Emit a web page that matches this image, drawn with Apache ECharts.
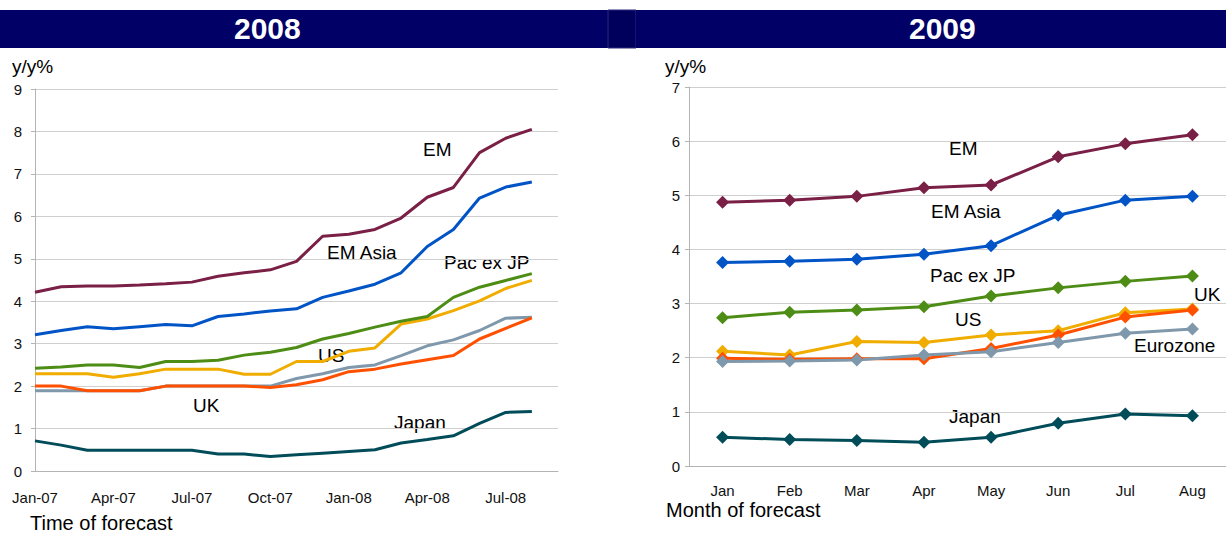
<!DOCTYPE html>
<html>
<head>
<meta charset="utf-8">
<script src="https://cdn.jsdelivr.net/npm/echarts@6/dist/echarts.min.js"></script>
<style>
  html, body { margin: 0; padding: 0; background: #fff; }
  #main { width: 1226px; height: 538px; }
</style>
</head>
<body>
<div id="main"></div>
<script>
// 2008 panel: monthly forecasts Jan-07 .. Aug-08 (axis runs to Sep-08)
var months08 = ['Jan-07','Feb-07','Mar-07','Apr-07','May-07','Jun-07','Jul-07','Aug-07','Sep-07','Oct-07','Nov-07','Dec-07',
  'Jan-08','Feb-08','Mar-08','Apr-08','May-08','Jun-08','Jul-08','Aug-08','Sep-08'];
var em08 = [4.21,4.34,4.36,4.36,4.38,4.41,4.45,4.59,4.67,4.74,4.94,5.53,5.58,5.69,5.96,6.45,6.68,7.50,7.84,8.05];
var emAsia08 = [3.21,3.31,3.40,3.35,3.40,3.45,3.42,3.64,3.70,3.77,3.82,4.09,4.24,4.40,4.67,5.29,5.69,6.43,6.69,6.81];
var pacExJp08 = [2.42,2.45,2.50,2.50,2.44,2.58,2.58,2.61,2.73,2.80,2.91,3.11,3.24,3.39,3.53,3.64,4.09,4.33,4.49,4.65];
var us08 = [2.29,2.29,2.29,2.21,2.29,2.40,2.40,2.40,2.28,2.28,2.58,2.58,2.82,2.90,3.46,3.58,3.78,4.01,4.30,4.49];
var uk08 = [2.00,2.00,1.89,1.89,1.89,2.00,2.00,2.00,2.00,1.97,2.03,2.15,2.34,2.40,2.52,2.62,2.72,3.11,3.36,3.61];
var euro08 = [1.89,1.89,1.89,1.89,1.89,2.00,2.00,2.00,2.00,2.00,2.18,2.29,2.44,2.50,2.72,2.95,3.09,3.31,3.60,3.62];
var japan08 = [0.71,0.61,0.49,0.49,0.49,0.49,0.49,0.40,0.40,0.34,0.38,0.42,0.46,0.50,0.66,0.74,0.83,1.12,1.38,1.40];

// 2009 panel: month of forecast
var months09 = ['Jan','Feb','Mar','Apr','May','Jun','Jul','Aug'];
var em09 = [4.87,4.91,4.98,5.14,5.19,5.71,5.95,6.12];
var emAsia09 = [3.76,3.78,3.82,3.91,4.07,4.63,4.91,4.98];
var pacExJp09 = [2.74,2.84,2.88,2.94,3.14,3.29,3.41,3.51];
var us09 = [2.12,2.05,2.30,2.28,2.42,2.50,2.83,2.90];
var uk09 = [1.99,1.97,1.98,1.98,2.17,2.42,2.75,2.88];
var euro09 = [1.93,1.94,1.96,2.05,2.11,2.28,2.45,2.53];
var japan09 = [0.53,0.49,0.47,0.44,0.53,0.79,0.96,0.93];

var colors = {
  em: '#7a1f45', emAsia: '#0054c6', pac: '#4e8d15', us: '#f0ad00',
  uk: '#ff5000', euro: '#7f98ab', japan: '#004c59'
};

var font = 'Liberation Sans, Arial, sans-serif';
var chart = echarts.init(document.getElementById('main'), null, { renderer: 'svg' });

function line08(name, data, color) {
  return {
    name: name, type: 'line', xAxisIndex: 0, yAxisIndex: 0, data: data,
    showSymbol: false, symbol: 'none',
    lineStyle: { color: color, width: 3 }, itemStyle: { color: color }
  };
}
function line09(name, data, color) {
  return {
    name: name, type: 'line', xAxisIndex: 1, yAxisIndex: 1, data: data,
    symbol: 'diamond', symbolSize: 13,
    lineStyle: { color: color, width: 3 }, itemStyle: { color: color }
  };
}

function label(text, x, y, size) {
  return { type: 'text', left: x, top: y, style: { text: text, font: (size || 19) + 'px ' + font, fill: '#000' } };
}

var axisText = { color: '#111', fontSize: 15, fontFamily: font };

var option = {
  animation: false,
  grid: [
    { left: 35, right: 668, top: 89, bottom: 67 },
    { left: 689, right: -4, top: 87, bottom: 72 }
  ],
  xAxis: [
    {
      gridIndex: 0, type: 'category', data: months08, boundaryGap: false,
      axisLine: { lineStyle: { color: '#b4b4b4' } },
      axisTick: { show: false },
      axisLabel: Object.assign({ interval: 2, margin: 19 }, axisText),
      splitLine: { show: false }
    },
    {
      gridIndex: 1, type: 'category', data: months09, boundaryGap: true,
      axisLine: { lineStyle: { color: '#b4b4b4' } },
      axisTick: { show: false },
      axisLabel: Object.assign({ margin: 17 }, axisText),
      splitLine: { show: false }
    }
  ],
  yAxis: [
    {
      gridIndex: 0, type: 'value', min: 0, max: 9, interval: 1,
      axisLine: { show: true, lineStyle: { color: '#b4b4b4' } },
      axisTick: { show: true, length: 4, lineStyle: { color: '#b4b4b4' } },
      axisLabel: Object.assign({ margin: 13 }, axisText),
      splitLine: { lineStyle: { color: '#cfcfcf', width: 1 } }
    },
    {
      gridIndex: 1, type: 'value', min: 0, max: 7, interval: 1,
      axisLine: { show: true, lineStyle: { color: '#b4b4b4' } },
      axisTick: { show: true, length: 4, lineStyle: { color: '#b4b4b4' } },
      axisLabel: Object.assign({ margin: 9 }, axisText),
      splitLine: { lineStyle: { color: '#cfcfcf', width: 1 } }
    }
  ],
  series: [
    line08('Japan', japan08, colors.japan),
    line08('Eurozone', euro08, colors.euro),
    line08('UK', uk08, colors.uk),
    line08('US', us08, colors.us),
    line08('Pac ex JP', pacExJp08, colors.pac),
    line08('EM Asia', emAsia08, colors.emAsia),
    line08('EM', em08, colors.em),

    line09('Japan', japan09, colors.japan),
    line09('US', us09, colors.us),
    line09('UK', uk09, colors.uk),
    line09('Eurozone', euro09, colors.euro),
    line09('Pac ex JP', pacExJp09, colors.pac),
    line09('EM Asia', emAsia09, colors.emAsia),
    line09('EM', em09, colors.em)
  ],
  graphic: [
    // title bars
    { type: 'rect', shape: { x: 0, y: 10, width: 608, height: 38 }, style: { fill: '#000066' } },
    { type: 'rect', shape: { x: 608, y: 10, width: 28, height: 38 }, style: { fill: '#00005c', stroke: '#2a2a7a', lineWidth: 1 } },
    { type: 'rect', shape: { x: 636, y: 10, width: 590, height: 38 }, style: { fill: '#000066' } },
    { type: 'text', left: 234, top: 13, style: { text: '2008', font: 'bold 30px Liberation Sans, Arial, sans-serif', fill: '#fff' } },
    { type: 'text', left: 909, top: 13, style: { text: '2009', font: 'bold 30px Liberation Sans, Arial, sans-serif', fill: '#fff' } },

    // axis titles
    label('y/y%', 12, 57, 19),
    label('Time of forecast', 30, 513, 20),
    label('y/y%', 665, 57, 19),
    label('Month of forecast', 666, 500, 20),

    // 2008 series labels
    label('EM', 423, 140),
    label('EM Asia', 327, 243),
    label('Pac ex JP', 444, 253),
    label('US', 318, 346),
    label('UK', 193, 396),
    label('Japan', 394, 413),

    // 2009 series labels
    label('EM', 949, 139),
    label('EM Asia', 931, 202),
    label('Pac ex JP', 930, 266),
    label('US', 955, 310),
    label('UK', 1194, 285),
    label('Eurozone', 1134, 336),
    label('Japan', 949, 407)
  ]
};

chart.setOption(option);
</script>
</body>
</html>
